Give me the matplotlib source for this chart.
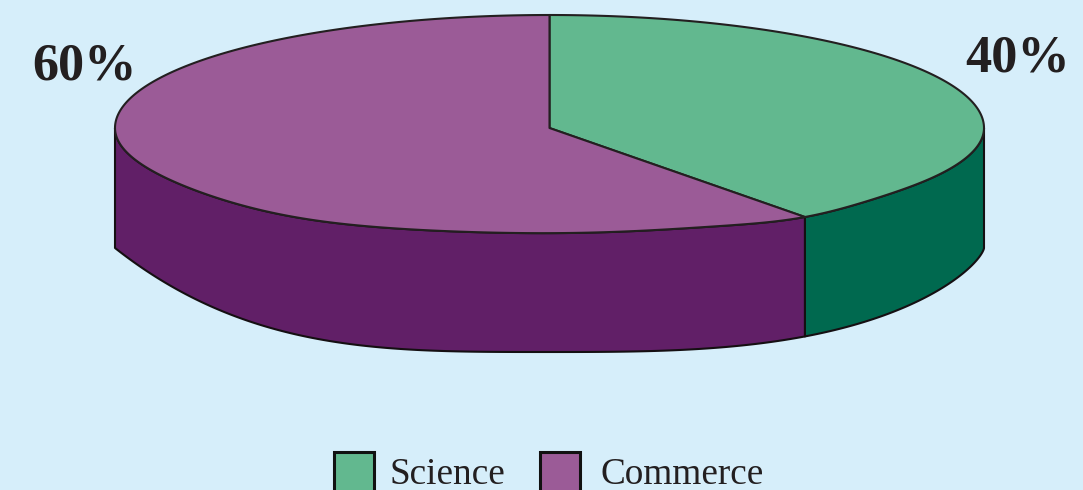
import numpy as np
import matplotlib
matplotlib.use("Agg")
import matplotlib.pyplot as plt
from matplotlib.patches import Polygon, Rectangle

categories = ["Science", "Commerce"]
values = [40, 60]
labels = ["40%", "60%"]

W, H = 1083, 490
CX, CY, RX, DEPTH = 549.5, 128, 434.5, 120
BG = "#D6EEFA"
TOP = ["#62B88F", "#9B5B97"]
SIDE = ["#00694F", "#611F67"]
EDGE = "#231F20"

fig = plt.figure(figsize=(W / 100, H / 100), dpi=100, facecolor=BG)
ax = fig.add_axes([0, 0, 1, 1])
ax.set_xlim(0, W)
ax.set_ylim(H, 0)
ax.axis("off")


def bump(d, centre, width):
    return np.exp(-((d - centre) / width) ** 2)


def upper_rim(a0, a1):
    """Hand-drawn top ellipse: flatter in front than behind, angles clockwise from top."""
    d = np.linspace(a0, a1, 300)
    t = np.radians(d)
    front = np.cos(t) < 0
    ry = np.where(front, 105 + 5 * bump(d, 144, 12) + 5 * bump(d, 218, 20), 113)
    return np.column_stack([CX + RX * np.sin(t), CY - ry * np.cos(t)])


def lower_rim(a0, a1):
    """Lower edge of the wall: sharp corner on the left, rounded on the right."""
    d = np.linspace(a0, a1, 300)
    t = np.radians(d)
    u = np.abs(np.sin(t))
    right = d < 180
    drop = np.where(right, (1 - u ** 3.0) ** (1 / 1.4), 1 - u ** 3.3)
    return np.column_stack([CX + RX * np.sin(t), CY + DEPTH + 104 * drop])


total = sum(values)
bounds = np.concatenate([[0], np.cumsum(values) / total * 360])

# side walls (only the front half of the rim is visible)
for i in range(len(values)):
    a0, a1 = max(bounds[i], 90), min(bounds[i + 1], 270)
    if a1 > a0:
        ax.add_patch(Polygon(np.vstack([upper_rim(a0, a1), lower_rim(a0, a1)[::-1]]),
                             closed=True, fc=SIDE[i], ec="#150F12", lw=1.5,
                             joinstyle="round", zorder=2))

# top slices
for i in range(len(values)):
    pts = np.vstack([[[CX, CY]], upper_rim(bounds[i], bounds[i + 1])])
    ax.add_patch(Polygon(pts, closed=True, fc=TOP[i], ec=EDGE, lw=1.5,
                         joinstyle="round", zorder=3))

font = "Liberation Serif"
ax.text(965, 71, labels[0], family=font, weight="bold", fontsize=37.6,
        ha="left", va="baseline", color=EDGE)
ax.text(32, 80, labels[1], family=font, weight="bold", fontsize=37.6,
        ha="left", va="baseline", color=EDGE)

# legend
for x, c, name, tx in zip([333.5, 539.5], TOP, categories, [390, 600]):
    ax.add_patch(Rectangle((x, 451.5), 40, 42, fc=c, ec="#111111", lw=2.2))
    ax.text(tx, 484, name, family=font, fontsize=26.8, ha="left", va="baseline",
            color=EDGE)

fig.savefig("out.png", dpi=100, facecolor=BG)
